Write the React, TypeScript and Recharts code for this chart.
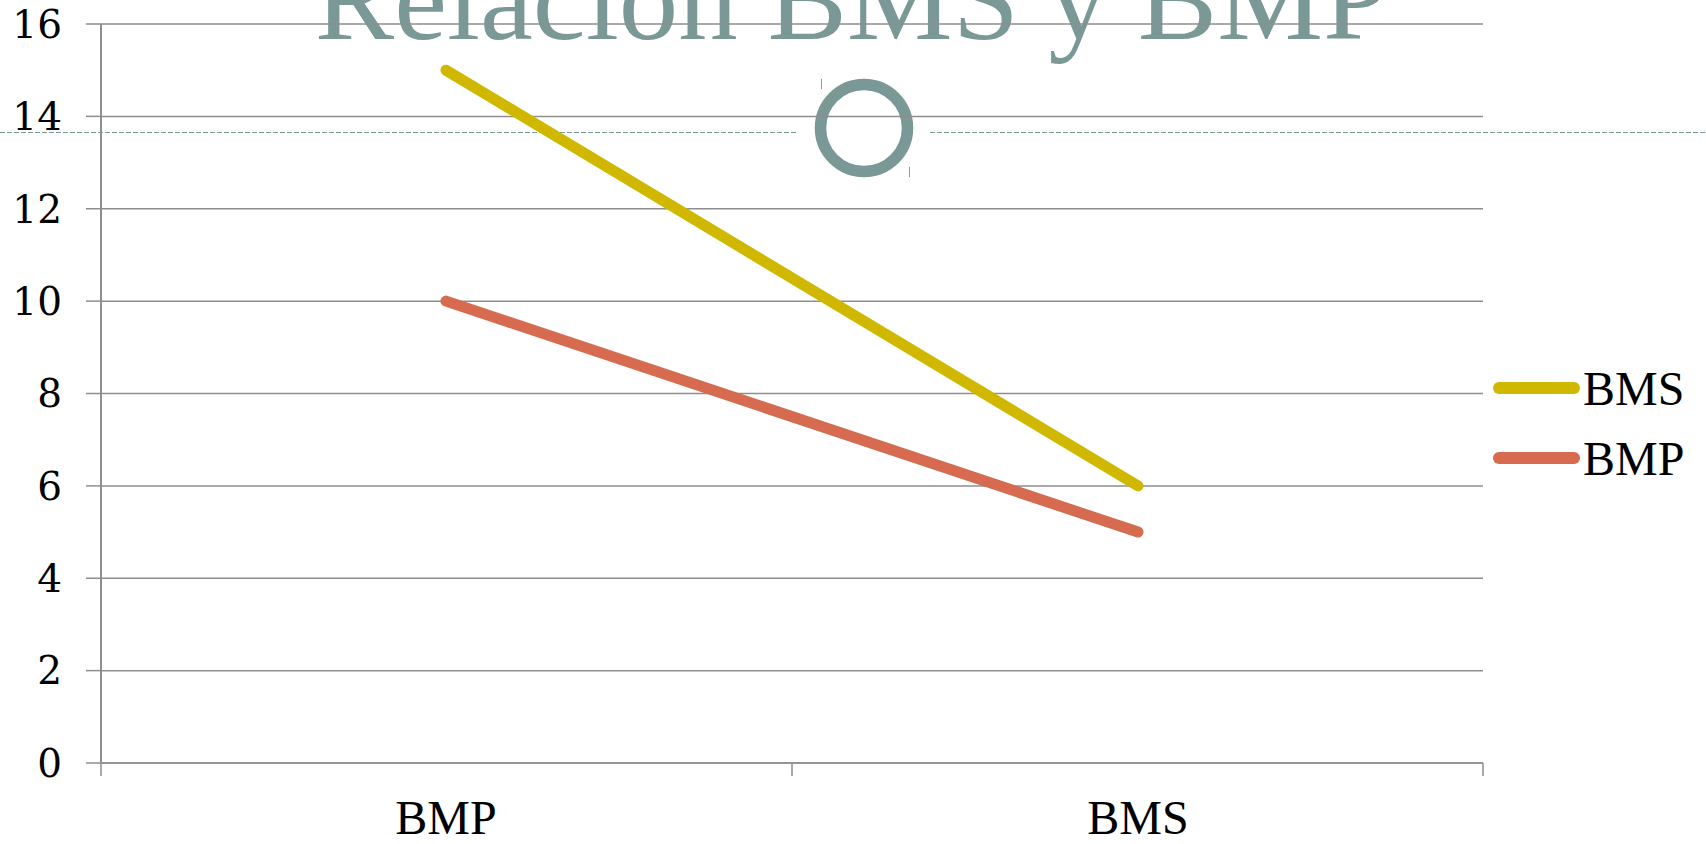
import { LineChart, Line, XAxis, YAxis, CartesianGrid, Legend } from "recharts";

const categories = ["BMP", "BMS"];
const bmsValues = [15, 6];
const bmpValues = [10, 5];
const seriesOrder = ["BMS", "BMP"];
const yTicks = [0, 2, 4, 6, 8, 10, 12, 14, 16];
// category band boundaries, as a fraction of the axis
const bandEdges = [0, 0.5, 1];

const data = categories.map((cat, i) => ({
  cat,
  BMS: bmsValues[i],
  BMP: bmpValues[i],
}));

const grey = "#8e8e8e";
const teal = "#7a9996";

function LegendBox(props: any) {
  const payload = [...(props.payload || [])].sort(
    (a: any, b: any) => seriesOrder.indexOf(a.value) - seriesOrder.indexOf(b.value)
  );
  return (
    <svg width={218} height={140}>
      {payload.map((p: any, i: number) => (
        <g key={p.value}>
          <line
            x1={12}
            x2={87}
            y1={35 + i * 70}
            y2={35 + i * 70}
            stroke={p.color}
            strokeWidth={12}
            strokeLinecap="round"
          />
          <text x={96} y={52 + i * 70} fontFamily="Liberation Serif" fontSize={48} fill="#000">
            {p.value}
          </text>
        </g>
      ))}
    </svg>
  );
}

const NoLabel = () => <g />;

export default function App() {
  return (
    <div style={{ position: "absolute", left: 0, top: 0, width: 1706, height: 844, background: "#fff" }}>
      {/* slide title and decoration, behind the chart */}
      <svg width={1706} height={844} style={{ position: "absolute", left: 0, top: 0 }}>
        <text x={852} y={39} textAnchor="middle" fontFamily="Liberation Serif" fontSize={119} fill={teal}>
          Relación BMS y BMP
        </text>
        <line x1={0} x2={798} y1={132.5} y2={132.5} stroke={teal} strokeWidth={1} strokeDasharray="5 2" />
        <line x1={930} x2={1706} y1={132.5} y2={132.5} stroke={teal} strokeWidth={1} strokeDasharray="5 2" />
        <circle cx={864} cy={128} r={43.5} fill="none" stroke={teal} strokeWidth={11.5} />
        <line x1={821.5} x2={821.5} y1={79} y2={89} stroke="#999" strokeWidth={1} />
        <line x1={909.5} x2={909.5} y1={167} y2={177} stroke="#999" strokeWidth={1} />
      </svg>
      <div style={{ position: "absolute", left: 0, top: 0 }}>
        <LineChart width={1706} height={844} data={data} margin={{ top: 24, right: 223, bottom: 0, left: 0 }}>
          <CartesianGrid xAxisId="cat" horizontal vertical={false} stroke={grey} strokeWidth={1.5} />
          {/* band-edge tick marks and axis line, directly on the plot bottom */}
          <XAxis
            xAxisId={0}
            type="number"
            height={1}
            domain={[0, 1]}
            ticks={bandEdges}
            interval={0}
            allowDataOverflow
            axisLine={{ stroke: grey, strokeWidth: 1.5 }}
            tick={NoLabel}
            tickSize={13}
            tickLine={{ stroke: grey, strokeWidth: 1.5 }}
          />
          <XAxis
            xAxisId="cat"
            dataKey="cat"
            height={80}
            padding={{ left: 345, right: 345 }}
            axisLine={false}
            tickLine={false}
            tickSize={0}
            tickMargin={36}
            tick={{ fill: "#000", fontSize: 48, fontFamily: "Liberation Serif" }}
          />
          <YAxis
            width={101}
            domain={[0, 16]}
            ticks={yTicks}
            axisLine={{ stroke: grey, strokeWidth: 2 }}
            tickLine={{ stroke: grey, strokeWidth: 1.5 }}
            tickSize={15}
            tickMargin={24}
            tick={{ fill: "#000", fontSize: 39, fontFamily: "DejaVu Serif" }}
          />
          <Legend
            layout="vertical"
            align="center"
            verticalAlign="middle"
            content={<LegendBox />}
            wrapperStyle={{ position: "absolute", left: 1487, top: 353, width: 218, height: 140 }}
          />
          <Line
            xAxisId="cat"
            dataKey="BMS"
            stroke="#d0b800"
            strokeWidth={11}
            strokeLinecap="round"
            dot={false}
            activeDot={false}
            isAnimationActive={false}
          />
          <Line
            xAxisId="cat"
            dataKey="BMP"
            stroke="#d66b50"
            strokeWidth={11}
            strokeLinecap="round"
            dot={false}
            activeDot={false}
            isAnimationActive={false}
          />
        </LineChart>
      </div>
    </div>
  );
}
